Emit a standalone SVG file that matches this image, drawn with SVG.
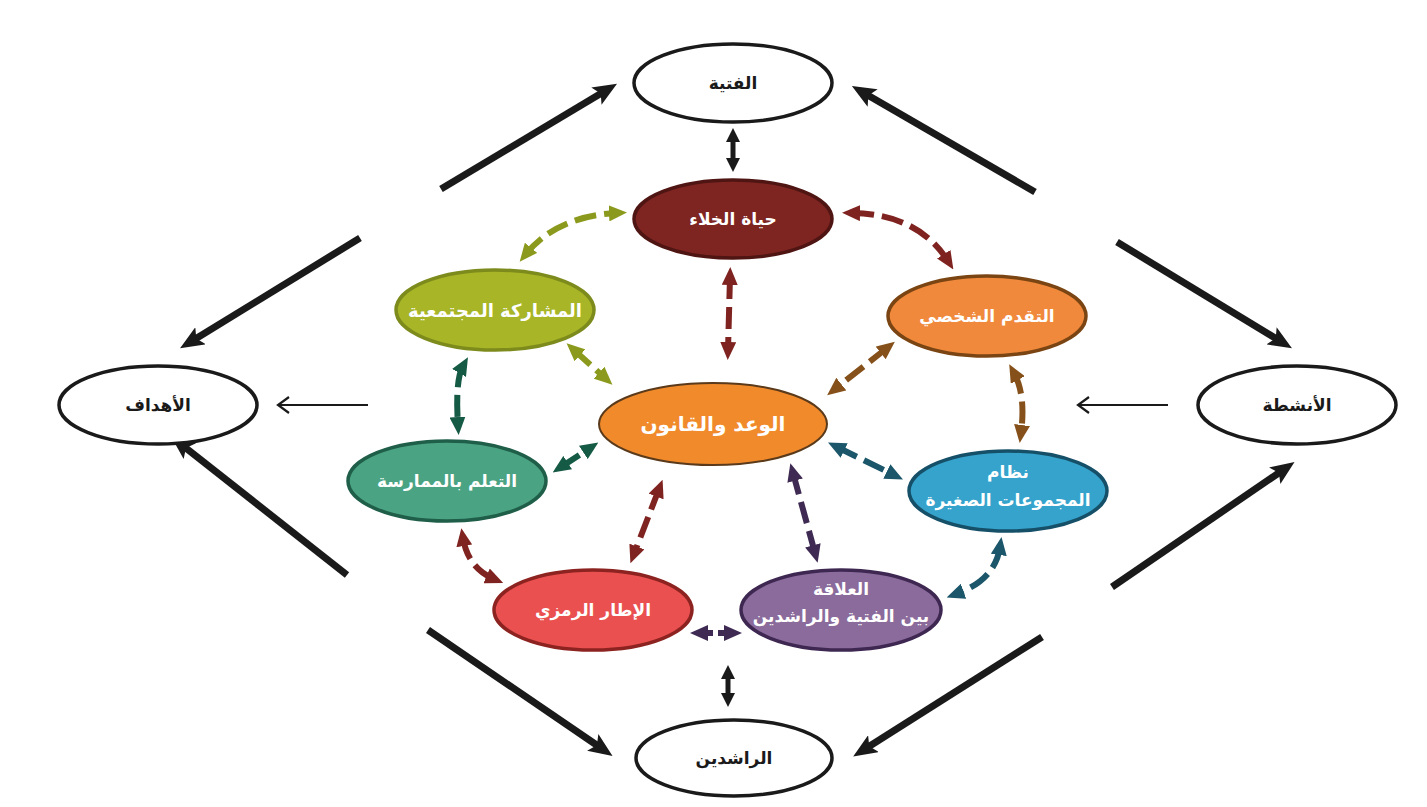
<svg xmlns="http://www.w3.org/2000/svg" width="1427" height="807" viewBox="0 0 1427 807">
<style>
.outer{fill:#ffffff;stroke:#1a1a1a;stroke-width:3.5}
.inner{stroke-width:3.5}
.tb{font-family:"DejaVu Sans","Noto Sans",sans-serif;font-weight:bold;font-size:17px;fill:#1a1a1a;text-anchor:middle;dominant-baseline:central}
.tw{font-family:"DejaVu Sans","Noto Sans",sans-serif;font-weight:bold;font-size:17px;fill:#ffffff;text-anchor:middle;dominant-baseline:central}
.big{stroke:#1a1a1a;stroke-width:7;fill:none;marker-end:url(#mBig)}
.thin{stroke:#1a1a1a;stroke-width:2;fill:none;marker-end:url(#mThin)}
.dbl{stroke:#1a1a1a;stroke-width:5;fill:none;marker-start:url(#mDbl);marker-end:url(#mDbl)}
.d{stroke-width:6;fill:none;stroke-dasharray:22 8}
.olive{stroke:#8b9a1c;marker-start:url(#mOlive);marker-end:url(#mOlive)}
.red{stroke:#7f2320;marker-start:url(#mRed);marker-end:url(#mRed)}
.brown{stroke:#85501a;marker-start:url(#mBrown);marker-end:url(#mBrown)}
.teal{stroke:#1b566a;marker-start:url(#mTeal);marker-end:url(#mTeal)}
.green{stroke:#155a45;marker-start:url(#mGreen);marker-end:url(#mGreen)}
.purple{stroke:#3e2a52;marker-start:url(#mPurple);marker-end:url(#mPurple)}
</style>
<defs>
<marker id="mBig" markerUnits="userSpaceOnUse" viewBox="0 0 24 20" markerWidth="24" markerHeight="20" refX="10" refY="10" orient="auto"><path d="M0,0 L24,10 L0,20 L5,10 z" fill="#1a1a1a"/></marker>
<marker id="mThin" markerUnits="userSpaceOnUse" viewBox="-2 -10 16 20" markerWidth="16" markerHeight="20" refX="12" refY="0" orient="auto"><path d="M1,-8 L12,0 L1,8" fill="none" stroke="#1a1a1a" stroke-width="2.2"/></marker>
<marker id="mDbl" markerUnits="userSpaceOnUse" viewBox="0 0 14 14" markerWidth="14" markerHeight="14" refX="6" refY="7" orient="auto-start-reverse"><path d="M0,0 L14,7 L0,14 z" fill="#1a1a1a"/></marker>
<marker id="mOlive" markerUnits="userSpaceOnUse" viewBox="0 0 18 16" markerWidth="18" markerHeight="16" refX="8" refY="8" orient="auto-start-reverse"><path d="M0,0 L18,8 L0,16 z" fill="#8b9a1c"/></marker>
<marker id="mRed" markerUnits="userSpaceOnUse" viewBox="0 0 18 16" markerWidth="18" markerHeight="16" refX="8" refY="8" orient="auto-start-reverse"><path d="M0,0 L18,8 L0,16 z" fill="#7f2320"/></marker>
<marker id="mBrown" markerUnits="userSpaceOnUse" viewBox="0 0 18 16" markerWidth="18" markerHeight="16" refX="8" refY="8" orient="auto-start-reverse"><path d="M0,0 L18,8 L0,16 z" fill="#85501a"/></marker>
<marker id="mTeal" markerUnits="userSpaceOnUse" viewBox="0 0 18 16" markerWidth="18" markerHeight="16" refX="8" refY="8" orient="auto-start-reverse"><path d="M0,0 L18,8 L0,16 z" fill="#1b566a"/></marker>
<marker id="mGreen" markerUnits="userSpaceOnUse" viewBox="0 0 18 16" markerWidth="18" markerHeight="16" refX="8" refY="8" orient="auto-start-reverse"><path d="M0,0 L18,8 L0,16 z" fill="#155a45"/></marker>
<marker id="mPurple" markerUnits="userSpaceOnUse" viewBox="0 0 18 16" markerWidth="18" markerHeight="16" refX="8" refY="8" orient="auto-start-reverse"><path d="M0,0 L18,8 L0,16 z" fill="#3e2a52"/></marker>
</defs>
<rect width="1427" height="807" fill="#ffffff"/>

<g id="connectors">
<path class="big" d="M441,189 L605,91"/>
<path class="big" d="M1035,192 L864,93"/>
<path class="big" d="M360,238 L192,341"/>
<path class="big" d="M1117,242 L1280,341"/>
<path class="big" d="M347,575 L182,445"/>
<path class="big" d="M1112,587 L1283,470"/>
<path class="big" d="M428,630 L601,748"/>
<path class="big" d="M1042,637 L865,749"/>
<path class="thin" d="M368,405 L278,405"/>
<path class="thin" d="M1168,405 L1078,405"/>
<path class="dbl" d="M733,136 L733,164"/>
<path class="dbl" d="M728,673 L728,699"/>
<path class="d olive" d="M526,254 Q557,216 617,213"/>
<path class="d red" d="M852,213 Q918,214 948,261"/>
<path class="d olive" d="M574,350 L605,378"/>
<path class="d red" d="M730,277 L728,350"/>
<path class="d brown" d="M887,348 L835,389"/>
<path class="d brown" d="M1014,373 Q1026,395 1021,433"/>
<path class="d teal" d="M837,447 L894,475"/>
<path class="d teal" d="M1000,547 Q995,580 956,594"/>
<path class="d green" d="M463,366 Q455,380 458,425"/>
<path class="d green" d="M561,467 L590,448"/>
<path class="d red" d="M463,538 Q468,568 494,579"/>
<path class="d red" d="M659,489 L634,554"/>
<path class="d purple" d="M793,473 L815,553"/>
<path class="d purple" d="M700,633 L732,633" style="stroke-dasharray:13 5"/>
</g>

<g id="n-alfitya"><ellipse class="outer" cx="733" cy="83" rx="99" ry="39"/><text class="tb" x="733" y="83">الفتية</text></g>
<g id="n-ahdaf"><ellipse class="outer" cx="158" cy="405" rx="99" ry="39"/><text class="tb" x="158" y="405">الأهداف</text></g>
<g id="n-anshita"><ellipse class="outer" cx="1297" cy="405" rx="99" ry="39"/><text class="tb" x="1297" y="405">الأنشطة</text></g>
<g id="n-rashidin"><ellipse class="outer" cx="734" cy="758" rx="98" ry="38"/><text class="tb" x="734" y="758">الراشدين</text></g>

<g id="n-khala"><ellipse class="inner" cx="733" cy="219" rx="99" ry="39" fill="#7e2421" stroke="#4f1513"/><text class="tw" x="733" y="219">حياة الخلاء</text></g>
<g id="n-musharaka"><ellipse class="inner" cx="495" cy="310" rx="99" ry="40" fill="#a7b526" stroke="#7d8b1c"/><text class="tw" x="495" y="310" style="font-size:18px">المشاركة المجتمعية</text></g>
<g id="n-taqaddum"><ellipse class="inner" cx="987" cy="316" rx="99" ry="40" fill="#f0893c" stroke="#7a4513"/><text class="tw" x="987" y="316">التقدم الشخصي</text></g>
<g id="n-waad"><ellipse cx="713" cy="424" rx="114" ry="41" fill="#f08a2b" stroke="#5a3a1a" stroke-width="2"/><text class="tw" x="713" y="424" style="font-size:20px">الوعد والقانون</text></g>
<g id="n-taallum"><ellipse class="inner" cx="447" cy="481" rx="99" ry="40" fill="#4aa383" stroke="#1f5e48"/><text class="tw" x="447" y="481">التعلم بالممارسة</text></g>
<g id="n-nizam"><ellipse class="inner" cx="1008" cy="491" rx="99" ry="40" fill="#35a3cc" stroke="#155068"/><text class="tw" x="1008" y="472">نظام</text><text class="tw" x="1008" y="500">المجموعات الصغيرة</text></g>
<g id="n-itar"><ellipse class="inner" cx="593" cy="610" rx="99" ry="40" fill="#e9504f" stroke="#8d2320"/><text class="tw" x="593" y="610">الإطار الرمزي</text></g>
<g id="n-alaqa"><ellipse class="inner" cx="841" cy="610" rx="100" ry="40" fill="#8a6b9b" stroke="#3e2852"/><text class="tw" x="841" y="589">العلاقة</text><text class="tw" x="841" y="616">بين الفتية والراشدين</text></g>
</svg>
